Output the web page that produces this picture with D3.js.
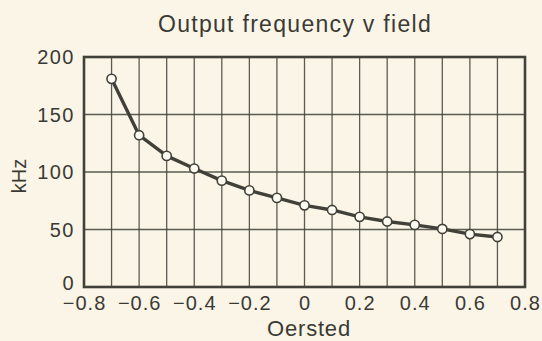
<!DOCTYPE html>
<html>
<head>
<meta charset="utf-8">
<script src="https://cdn.jsdelivr.net/npm/d3@7"></script>
<style>
  html, body { margin: 0; padding: 0; background: #fbf5e8; }
  svg { display: block; }
  text { font-family: "Liberation Sans", Arial, Helvetica, sans-serif; fill: #3a3a33; }
</style>
</head>
<body>
<svg id="chart" width="542" height="341"></svg>
<script>
// Field strength (Oersted) and measured output frequency (kHz)
const field = [-0.7, -0.6, -0.5, -0.4, -0.3, -0.2, -0.1, 0, 0.1, 0.2, 0.3, 0.4, 0.5, 0.6, 0.7];
const freq  = [181, 132, 114, 103, 92.5, 84, 77.5, 71, 67, 61, 57, 54, 50.5, 46, 43.5];
const xTickLabels = ["\u22120.8", "\u22120.6", "\u22120.4", "\u22120.2", "0", "0.2", "0.4", "0.6", "0.8"];
const xTickValues = [-0.8, -0.6, -0.4, -0.2, 0, 0.2, 0.4, 0.6, 0.8];
const yTickValues = [0, 50, 100, 150, 200];

const svg = d3.select("#chart");
const ink = "#414139";
const plot = { left: 84, right: 525, top: 57, bottom: 287 };

const x = d3.scaleLinear().domain([-0.8, 0.8]).range([plot.left, plot.right]);
const y = d3.scaleLinear().domain([0, 200]).range([plot.bottom, plot.top]);

// Vertical grid every 0.1 Oe
const xGrid = d3.range(-8, 9).map(d => d / 10);
svg.append("g").selectAll("line").data(xGrid).join("line")
  .attr("x1", d => x(d)).attr("x2", d => x(d))
  .attr("y1", plot.top).attr("y2", plot.bottom)
  .attr("stroke", ink).attr("stroke-width", 1.3).attr("opacity", 0.85);

// Horizontal grid every 50 kHz
svg.append("g").selectAll("line").data(yTickValues).join("line")
  .attr("x1", plot.left).attr("x2", plot.right)
  .attr("y1", d => y(d)).attr("y2", d => y(d))
  .attr("stroke", ink).attr("stroke-width", 1.5).attr("opacity", 0.85);

// Frame
svg.append("rect")
  .attr("x", plot.left).attr("y", plot.top)
  .attr("width", plot.right - plot.left).attr("height", plot.bottom - plot.top)
  .attr("fill", "none").attr("stroke", ink).attr("stroke-width", 2.6);

const labelFont = "'Liberation Sans', Arial, sans-serif";

// Axes (labels only; frame and grid drawn above)
const xAxis = d3.axisBottom(x).tickValues(xTickValues)
  .tickFormat((d, i) => xTickLabels[i]).tickSize(0).tickPadding(9);
const gx = svg.append("g").attr("transform", `translate(0,${plot.bottom})`).call(xAxis);
gx.select(".domain").remove();
gx.selectAll("text").attr("font-size", 20)
  .style("letter-spacing", "1px").style("fill", "#3a3a33").style("font-family", labelFont);

const yAxis = d3.axisLeft(y).tickValues(yTickValues).tickSize(0).tickPadding(9);
const gy = svg.append("g").attr("transform", `translate(${plot.left},0)`).call(yAxis);
gy.select(".domain").remove();
gy.selectAll("text").attr("font-size", 20)
  .attr("dy", d => d === 0 ? "0.12em" : "0.34em")
  .style("letter-spacing", "1.5px").style("fill", "#3a3a33").style("font-family", labelFont);

// Data line
const pts = field.map((f, i) => [f, freq[i]]);
svg.append("path").datum(pts)
  .attr("fill", "none").attr("stroke", ink).attr("stroke-width", 3.4)
  .attr("stroke-linejoin", "round")
  .attr("d", d3.line().x(d => x(d[0])).y(d => y(d[1])));

svg.append("g").selectAll("circle").data(pts).join("circle")
  .attr("cx", d => x(d[0])).attr("cy", d => y(d[1])).attr("r", 4.6)
  .attr("fill", "#fdfaf2").attr("stroke", ink).attr("stroke-width", 1.6);

// Titles
svg.append("text").attr("x", 295).attr("y", 32).attr("text-anchor", "middle")
  .attr("font-size", 23).style("letter-spacing", "1.3px").text("Output frequency v field");
svg.append("text").attr("x", 309).attr("y", 336).attr("text-anchor", "middle")
  .attr("font-size", 22).style("letter-spacing", "0.8px").text("Oersted");
svg.append("text").attr("transform", "translate(26,176) rotate(-90)")
  .attr("text-anchor", "middle").attr("font-size", 20).text("kHz");
</script>
</body>
</html>
